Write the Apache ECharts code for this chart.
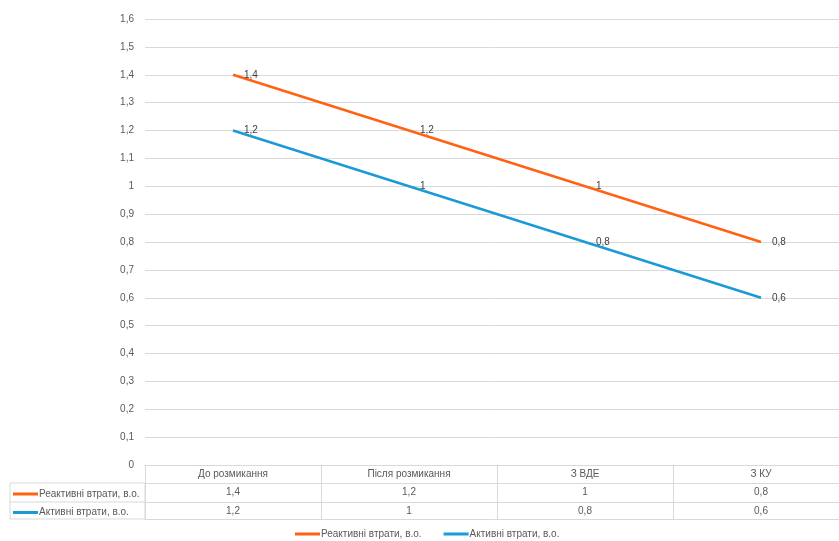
<!DOCTYPE html>
<html>
<head>
<meta charset="utf-8">
<script src="https://cdn.jsdelivr.net/npm/echarts@6/dist/echarts.min.js"></script>
<style>html,body{margin:0;padding:0;background:#fff}#c{width:839px;height:541px}</style>
</head>
<body>
<div id="c"></div>
<script>
var categories = ['До розмикання', 'Після розмикання', 'З ВДЕ', 'З КУ'];
var reactiveName = 'Реактивні втрати, в.о.';
var activeName = 'Активні втрати, в.о.';
var reactive = [1.4, 1.2, 1, 0.8];
var active = [1.2, 1, 0.8, 0.6];

var FONT = 'Liberation Sans';
var ORANGE = '#FF6212';
var BLUE = '#1A9AD7';
var GRID = '#d9d9d9';
function fmt(v) { return String(Math.round(v * 10) / 10).replace('.', ','); }

var chart = echarts.init(document.getElementById('c'));
var baseX = {
  type: 'category', data: categories, gridIndex: 0, position: 'bottom',
  boundaryGap: true
};
chart.setOption({
  animation: false,
  textStyle: { fontFamily: FONT },
  grid: { left: 145, width: 704, top: 19, bottom: 76, containLabel: false, outerBoundsMode: 'none' },
  legend: [{
    data: [reactiveName, activeName],
    left: 295, bottom: 2, padding: 0, itemWidth: 25, itemHeight: 3, itemGap: 22,
    icon: 'rect',
    textStyle: { fontFamily: FONT, fontSize: 10, color: '#595959', padding: [0, 0, 0, -4] }
  }, {
    data: [reactiveName, activeName],
    orient: 'vertical', left: 13, top: 489, padding: 0, itemWidth: 25, itemHeight: 3, itemGap: 8.5,
    icon: 'rect', selectedMode: false,
    textStyle: { fontFamily: FONT, fontSize: 10, color: '#595959', padding: [0, 0, 0, -4] }
  }],
  xAxis: [
    Object.assign({}, baseX, {
      axisLine: { show: true, lineStyle: { color: GRID } },
      axisTick: { show: true, length: 54, lineStyle: { color: GRID } },
      axisLabel: { margin: 4, fontSize: 10, color: '#595959', fontFamily: FONT, interval: 0 }
    }),
    Object.assign({}, baseX, {
      offset: 18,
      axisLine: { show: true, lineStyle: { color: GRID } },
      axisTick: { show: false },
      axisLabel: { margin: 4, fontSize: 10, color: '#595959', fontFamily: FONT, interval: 0,
        formatter: function (v, i) { return fmt(reactive[i]); } }
    }),
    Object.assign({}, baseX, {
      offset: 37,
      axisLine: { show: true, lineStyle: { color: GRID } },
      axisTick: { show: false },
      axisLabel: { margin: 4, fontSize: 10, color: '#595959', fontFamily: FONT, interval: 0,
        formatter: function (v, i) { return fmt(active[i]); } }
    }),
    Object.assign({}, baseX, {
      offset: 54,
      axisLine: { show: true, lineStyle: { color: GRID } },
      axisTick: { show: false },
      axisLabel: { show: false }
    })
  ],
  yAxis: {
    type: 'value', min: 0, max: 1.6, interval: 0.1,
    axisLine: { show: false }, axisTick: { show: false },
    axisLabel: { margin: 11, fontSize: 10, color: '#595959', fontFamily: FONT, formatter: fmt },
    splitLine: { lineStyle: { color: GRID } }
  },
  graphic: [
    { type: 'rect', shape: { x: 10, y: 483, width: 135, height: 36 },
      style: { fill: 'none', stroke: GRID, lineWidth: 1 }, silent: true },
    { type: 'line', shape: { x1: 10, y1: 502, x2: 145, y2: 502 },
      style: { stroke: GRID, lineWidth: 1 }, silent: true }
  ],
  series: [{
    name: reactiveName, type: 'line', data: reactive,
    symbol: 'circle', symbolSize: 0, itemStyle: { color: ORANGE },
    lineStyle: { color: ORANGE, width: 2.5 },
    label: { show: true, position: 'right', distance: 11, fontSize: 10, color: '#404040', fontFamily: FONT, formatter: function (p) { return fmt(p.value); } }
  }, {
    name: activeName, type: 'line', data: active,
    symbol: 'circle', symbolSize: 0, itemStyle: { color: BLUE },
    lineStyle: { color: BLUE, width: 2.5 },
    label: { show: true, position: 'right', distance: 11, fontSize: 10, color: '#404040', fontFamily: FONT, formatter: function (p) { return fmt(p.value); } }
  }]
});
</script>
</body>
</html>
